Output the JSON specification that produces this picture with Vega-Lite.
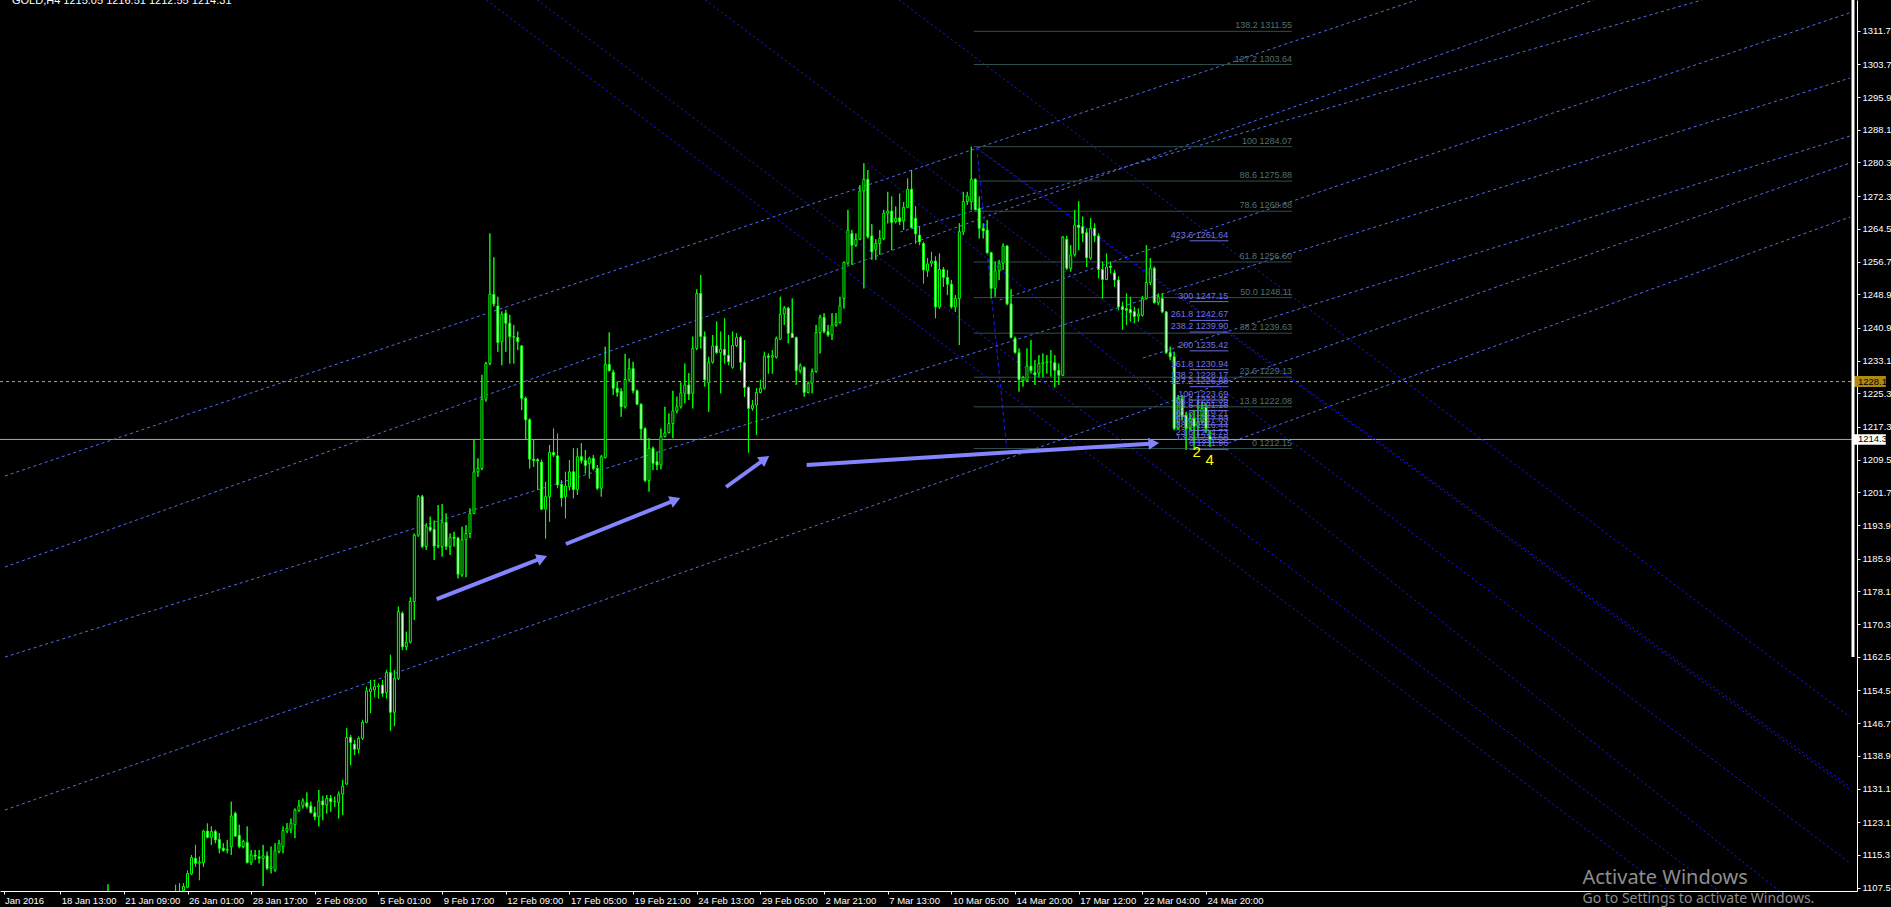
{
  "$schema": "https://vega.github.io/schema/vega-lite/v6.json",
  "width": 1857,
  "height": 891,
  "autosize": "none",
  "padding": {"left": 0, "top": 0, "right": 34, "bottom": 16},
  "background": "#000000",
  "config": {
    "view": {"stroke": null},
    "axis": {"grid": false, "labelFont": "Liberation Sans", "labelFontSize": 9.5, "labelColor": "#FFFFFF", "tickColor": "#FFFFFF", "domainColor": "#FFFFFF"}
  },
  "datasets": {
    "candles": [
      {"b":25,"o":1103,"h":1108.3,"l":1100,"c":1104},
      {"b":42,"o":1104.5,"h":1108.2,"l":1102,"c":1105.5},
      {"b":43,"o":1105.5,"h":1108.6,"l":1103,"c":1105},
      {"b":44,"o":1106.8,"h":1108.6,"l":1106.4,"c":1107.8},
      {"b":45,"o":1107.6,"h":1111.6,"l":1107.4,"c":1110.9},
      {"b":46,"o":1110.8,"h":1115.3,"l":1110.5,"c":1114.7},
      {"b":47,"o":1114.5,"h":1117.7,"l":1112.5,"c":1113.3},
      {"b":48,"o":1113.4,"h":1114.9,"l":1109.3,"c":1113.6},
      {"b":49,"o":1113.5,"h":1121.3,"l":1112.5,"c":1121.0},
      {"b":50,"o":1121.0,"h":1122.8,"l":1119.3,"c":1119.5},
      {"b":51,"o":1119.5,"h":1122.1,"l":1117.7,"c":1120.9},
      {"b":52,"o":1120.9,"h":1121.3,"l":1118.1,"c":1118.9},
      {"b":53,"o":1119.0,"h":1120.5,"l":1115.7,"c":1116.9},
      {"b":54,"o":1116.9,"h":1118.1,"l":1116.1,"c":1116.4},
      {"b":55,"o":1116.4,"h":1118.9,"l":1115.7,"c":1116.6},
      {"b":56,"o":1117.3,"h":1128.0,"l":1115.3,"c":1124.6},
      {"b":57,"o":1125.2,"h":1125.6,"l":1119.7,"c":1119.8},
      {"b":58,"o":1120.0,"h":1122.5,"l":1116.9,"c":1117.3},
      {"b":59,"o":1117.3,"h":1118.9,"l":1116.9,"c":1118.5},
      {"b":60,"o":1118.3,"h":1122.1,"l":1113.3,"c":1113.5},
      {"b":61,"o":1113.5,"h":1116.5,"l":1112.9,"c":1115.3},
      {"b":62,"o":1115.3,"h":1116.5,"l":1114.1,"c":1115.0},
      {"b":63,"o":1114.9,"h":1116.5,"l":1113.3,"c":1114.5},
      {"b":64,"o":1114.5,"h":1117.7,"l":1107.9,"c":1115.1},
      {"b":65,"o":1115.1,"h":1116.1,"l":1111.7,"c":1112.1},
      {"b":66,"o":1112.1,"h":1117.3,"l":1110.9,"c":1112.5},
      {"b":67,"o":1111.7,"h":1118.1,"l":1111.3,"c":1116.3},
      {"b":68,"o":1116.1,"h":1118.9,"l":1115.7,"c":1118.1},
      {"b":69,"o":1117.3,"h":1122.1,"l":1115.7,"c":1121.1},
      {"b":70,"o":1121.0,"h":1122.9,"l":1120.5,"c":1121.7},
      {"b":71,"o":1121.4,"h":1124.0,"l":1120.5,"c":1122.9},
      {"b":72,"o":1122.5,"h":1126.4,"l":1119.3,"c":1126.0},
      {"b":73,"o":1125.9,"h":1128.4,"l":1125.6,"c":1127.0},
      {"b":74,"o":1127.0,"h":1128.8,"l":1126.4,"c":1128.2},
      {"b":75,"o":1127.8,"h":1130.2,"l":1126.4,"c":1126.8},
      {"b":76,"o":1127.0,"h":1128.0,"l":1125.2,"c":1125.4},
      {"b":77,"o":1125.4,"h":1126.8,"l":1123.6,"c":1124.4},
      {"b":78,"o":1124.4,"h":1130.8,"l":1122.1,"c":1128.2},
      {"b":79,"o":1128.2,"h":1129.4,"l":1123.6,"c":1127.2},
      {"b":80,"o":1127.2,"h":1129.6,"l":1125.2,"c":1128.8},
      {"b":81,"o":1128.8,"h":1129.6,"l":1125.6,"c":1128.0},
      {"b":82,"o":1128.0,"h":1129.2,"l":1126.8,"c":1128.1},
      {"b":83,"o":1127.8,"h":1130.4,"l":1124.0,"c":1129.8},
      {"b":84,"o":1129.8,"h":1133.2,"l":1124.8,"c":1131.7},
      {"b":85,"o":1132.2,"h":1145.5,"l":1132.0,"c":1143.3},
      {"b":86,"o":1143.3,"h":1143.9,"l":1136.7,"c":1142.1},
      {"b":87,"o":1141.7,"h":1142.7,"l":1139.1,"c":1140.5},
      {"b":88,"o":1140.5,"h":1143.5,"l":1139.5,"c":1143.1},
      {"b":89,"o":1143.1,"h":1147.5,"l":1142.7,"c":1146.9},
      {"b":90,"o":1146.9,"h":1155.4,"l":1146.7,"c":1154.4},
      {"b":91,"o":1154.2,"h":1157.0,"l":1149.1,"c":1154.9},
      {"b":92,"o":1154.6,"h":1157.0,"l":1153.0,"c":1155.4},
      {"b":93,"o":1155.4,"h":1156.2,"l":1152.6,"c":1155.6},
      {"b":94,"o":1155.8,"h":1157.0,"l":1153.0,"c":1153.8},
      {"b":95,"o":1154.0,"h":1159.4,"l":1152.6,"c":1158.8},
      {"b":96,"o":1158.8,"h":1163.0,"l":1144.9,"c":1149.3},
      {"b":97,"o":1149.3,"h":1159.4,"l":1146.0,"c":1157.4},
      {"b":98,"o":1157.4,"h":1174.5,"l":1157.0,"c":1173.3},
      {"b":99,"o":1172.9,"h":1173.3,"l":1164.1,"c":1164.9},
      {"b":100,"o":1164.9,"h":1168.5,"l":1164.1,"c":1166.0},
      {"b":101,"o":1166.0,"h":1176.7,"l":1165.7,"c":1175.7},
      {"b":102,"o":1175.7,"h":1191.9,"l":1171.3,"c":1191.5},
      {"b":103,"o":1191.5,"h":1201.1,"l":1191.1,"c":1200.7},
      {"b":104,"o":1200.7,"h":1201.1,"l":1188.4,"c":1188.8},
      {"b":105,"o":1188.8,"h":1194.3,"l":1188.0,"c":1193.5},
      {"b":106,"o":1193.4,"h":1195.9,"l":1192.3,"c":1192.7},
      {"b":107,"o":1192.9,"h":1195.0,"l":1185.6,"c":1188.9},
      {"b":108,"o":1188.9,"h":1198.7,"l":1188.4,"c":1189.1},
      {"b":109,"o":1188.8,"h":1198.9,"l":1186.4,"c":1194.6},
      {"b":110,"o":1194.6,"h":1196.7,"l":1188.0,"c":1188.8},
      {"b":111,"o":1188.8,"h":1191.9,"l":1186.8,"c":1191.0},
      {"b":112,"o":1191.0,"h":1192.3,"l":1188.8,"c":1190.7},
      {"b":113,"o":1190.8,"h":1191.1,"l":1181.2,"c":1182.2},
      {"b":114,"o":1182.0,"h":1193.5,"l":1181.6,"c":1190.4},
      {"b":115,"o":1190.4,"h":1193.9,"l":1181.5,"c":1191.9},
      {"b":116,"o":1191.9,"h":1197.9,"l":1190.8,"c":1196.7},
      {"b":117,"o":1196.7,"h":1214.2,"l":1196.5,"c":1206.6},
      {"b":118,"o":1206.6,"h":1209.8,"l":1205.4,"c":1207.4},
      {"b":119,"o":1207.4,"h":1229.7,"l":1207.0,"c":1223.9},
      {"b":120,"o":1223.9,"h":1232.8,"l":1223.3,"c":1232.4},
      {"b":121,"o":1232.4,"h":1263.4,"l":1232.0,"c":1248.9},
      {"b":122,"o":1248.9,"h":1257.7,"l":1246.0,"c":1246.6},
      {"b":123,"o":1246.1,"h":1248.3,"l":1235.2,"c":1237.4},
      {"b":124,"o":1237.6,"h":1244.8,"l":1232.0,"c":1244.1},
      {"b":125,"o":1244.4,"h":1245.2,"l":1235.2,"c":1242.0},
      {"b":126,"o":1242.0,"h":1244.0,"l":1232.4,"c":1238.8},
      {"b":127,"o":1238.8,"h":1241.6,"l":1232.4,"c":1238.7},
      {"b":128,"o":1238.6,"h":1240.0,"l":1235.6,"c":1237.6},
      {"b":129,"o":1236.6,"h":1236.8,"l":1221.3,"c":1224.1},
      {"b":130,"o":1224.1,"h":1224.5,"l":1214.2,"c":1219.0},
      {"b":131,"o":1219.0,"h":1219.3,"l":1207.4,"c":1209.6},
      {"b":132,"o":1209.6,"h":1214.2,"l":1207.8,"c":1209.3},
      {"b":133,"o":1209.5,"h":1209.8,"l":1202.3,"c":1209.2},
      {"b":134,"o":1208.9,"h":1209.5,"l":1197.5,"c":1197.7},
      {"b":135,"o":1197.7,"h":1204.2,"l":1190.7,"c":1200.7},
      {"b":136,"o":1200.7,"h":1213.0,"l":1194.7,"c":1211.2},
      {"b":137,"o":1211.2,"h":1216.9,"l":1210.2,"c":1210.6},
      {"b":138,"o":1210.4,"h":1215.7,"l":1202.7,"c":1203.5},
      {"b":139,"o":1203.6,"h":1204.6,"l":1198.3,"c":1200.4},
      {"b":140,"o":1200.7,"h":1206.6,"l":1195.5,"c":1203.2},
      {"b":141,"o":1203.1,"h":1209.4,"l":1202.2,"c":1206.6},
      {"b":142,"o":1206.6,"h":1212.2,"l":1200.3,"c":1202.4},
      {"b":143,"o":1202.4,"h":1212.2,"l":1201.1,"c":1210.2},
      {"b":144,"o":1210.2,"h":1213.4,"l":1208.6,"c":1209.3},
      {"b":145,"o":1209.3,"h":1211.8,"l":1206.2,"c":1208.1},
      {"b":146,"o":1208.6,"h":1210.2,"l":1205.0,"c":1209.8},
      {"b":147,"o":1209.8,"h":1210.6,"l":1207.0,"c":1207.4},
      {"b":148,"o":1207.4,"h":1208.2,"l":1202.3,"c":1202.7},
      {"b":149,"o":1202.7,"h":1210.6,"l":1200.7,"c":1210.2},
      {"b":150,"o":1210.0,"h":1236.4,"l":1209.8,"c":1232.2},
      {"b":151,"o":1232.2,"h":1239.8,"l":1230.5,"c":1230.7},
      {"b":152,"o":1230.3,"h":1230.9,"l":1224.9,"c":1226.5},
      {"b":153,"o":1226.5,"h":1228.1,"l":1224.5,"c":1225.5},
      {"b":154,"o":1225.8,"h":1226.5,"l":1219.7,"c":1222.1},
      {"b":155,"o":1222.1,"h":1234.7,"l":1221.7,"c":1228.6},
      {"b":156,"o":1228.5,"h":1233.6,"l":1228.1,"c":1231.2},
      {"b":157,"o":1231.2,"h":1232.8,"l":1225.3,"c":1225.9},
      {"b":158,"o":1225.9,"h":1226.2,"l":1222.5,"c":1222.7},
      {"b":159,"o":1222.7,"h":1222.9,"l":1214.3,"c":1216.8},
      {"b":160,"o":1216.9,"h":1217.2,"l":1204.2,"c":1204.5},
      {"b":161,"o":1204.5,"h":1214.6,"l":1201.9,"c":1212.2},
      {"b":162,"o":1212.2,"h":1212.6,"l":1207.0,"c":1208.6},
      {"b":163,"o":1209.0,"h":1211.4,"l":1207.0,"c":1208.2},
      {"b":164,"o":1208.2,"h":1216.9,"l":1207.2,"c":1215.0},
      {"b":165,"o":1215.0,"h":1222.1,"l":1214.8,"c":1215.9},
      {"b":166,"o":1215.9,"h":1220.5,"l":1215.7,"c":1218.1},
      {"b":167,"o":1218.1,"h":1225.9,"l":1214.6,"c":1221.1},
      {"b":168,"o":1221.1,"h":1224.5,"l":1220.5,"c":1222.1},
      {"b":169,"o":1222.1,"h":1227.9,"l":1221.7,"c":1225.4},
      {"b":170,"o":1225.3,"h":1232.4,"l":1222.9,"c":1227.3},
      {"b":171,"o":1227.3,"h":1230.1,"l":1223.7,"c":1225.1},
      {"b":172,"o":1225.3,"h":1238.8,"l":1221.7,"c":1236.0},
      {"b":173,"o":1236.0,"h":1250.1,"l":1235.6,"c":1249.1},
      {"b":174,"o":1249.1,"h":1253.5,"l":1236.0,"c":1238.8},
      {"b":175,"o":1238.8,"h":1240.0,"l":1226.9,"c":1228.5},
      {"b":176,"o":1227.8,"h":1234.0,"l":1220.9,"c":1232.7},
      {"b":177,"o":1232.7,"h":1239.2,"l":1232.4,"c":1236.6},
      {"b":178,"o":1236.6,"h":1242.4,"l":1234.7,"c":1235.0},
      {"b":179,"o":1235.0,"h":1240.0,"l":1225.3,"c":1235.8},
      {"b":180,"o":1235.8,"h":1243.2,"l":1232.4,"c":1234.4},
      {"b":181,"o":1234.4,"h":1239.2,"l":1232.0,"c":1232.8},
      {"b":182,"o":1231.5,"h":1240.0,"l":1231.2,"c":1236.7},
      {"b":183,"o":1236.7,"h":1239.6,"l":1236.4,"c":1238.6},
      {"b":184,"o":1238.6,"h":1238.9,"l":1230.8,"c":1232.7},
      {"b":185,"o":1232.7,"h":1238.0,"l":1224.5,"c":1226.7},
      {"b":186,"o":1226.7,"h":1226.9,"l":1211.2,"c":1221.7},
      {"b":187,"o":1221.7,"h":1223.7,"l":1221.2,"c":1222.5},
      {"b":188,"o":1222.5,"h":1226.5,"l":1215.4,"c":1225.5},
      {"b":189,"o":1225.5,"h":1228.5,"l":1225.3,"c":1226.5},
      {"b":190,"o":1226.5,"h":1235.2,"l":1226.2,"c":1234.2},
      {"b":191,"o":1234.2,"h":1234.8,"l":1230.0,"c":1233.9},
      {"b":192,"o":1233.9,"h":1235.6,"l":1230.0,"c":1234.3},
      {"b":193,"o":1233.9,"h":1238.8,"l":1233.6,"c":1238.4},
      {"b":194,"o":1238.2,"h":1248.3,"l":1238.0,"c":1244.1},
      {"b":195,"o":1244.2,"h":1246.1,"l":1241.6,"c":1245.6},
      {"b":196,"o":1245.6,"h":1245.9,"l":1237.2,"c":1239.6},
      {"b":197,"o":1239.6,"h":1247.9,"l":1238.6,"c":1238.6},
      {"b":198,"o":1238.6,"h":1238.8,"l":1227.3,"c":1230.7},
      {"b":199,"o":1230.7,"h":1232.4,"l":1230.1,"c":1231.9},
      {"b":200,"o":1231.5,"h":1231.7,"l":1224.5,"c":1225.5},
      {"b":201,"o":1225.5,"h":1228.1,"l":1225.3,"c":1227.7},
      {"b":202,"o":1227.7,"h":1231.2,"l":1225.3,"c":1230.5},
      {"b":203,"o":1230.5,"h":1241.6,"l":1230.2,"c":1239.8},
      {"b":204,"o":1239.8,"h":1244.0,"l":1234.8,"c":1243.4},
      {"b":205,"o":1243.4,"h":1244.4,"l":1239.6,"c":1240.0},
      {"b":206,"o":1240.0,"h":1241.6,"l":1238.8,"c":1239.2},
      {"b":207,"o":1239.2,"h":1244.4,"l":1238.0,"c":1241.6},
      {"b":208,"o":1241.6,"h":1244.4,"l":1241.2,"c":1242.2},
      {"b":209,"o":1242.2,"h":1248.3,"l":1241.9,"c":1246.2},
      {"b":210,"o":1247.9,"h":1256.7,"l":1245.5,"c":1256.5},
      {"b":211,"o":1256.3,"h":1269.0,"l":1255.9,"c":1264.2},
      {"b":212,"o":1263.4,"h":1264.2,"l":1255.9,"c":1260.6},
      {"b":213,"o":1260.6,"h":1263.4,"l":1260.2,"c":1262.0},
      {"b":214,"o":1262.0,"h":1274.9,"l":1261.8,"c":1273.5},
      {"b":215,"o":1273.5,"h":1280.1,"l":1250.3,"c":1276.3},
      {"b":216,"o":1276.3,"h":1278.5,"l":1262.2,"c":1262.6},
      {"b":217,"o":1262.8,"h":1265.6,"l":1257.1,"c":1259.0},
      {"b":218,"o":1259.6,"h":1262.0,"l":1257.1,"c":1261.0},
      {"b":219,"o":1261.0,"h":1264.2,"l":1258.3,"c":1262.2},
      {"b":220,"o":1262.2,"h":1269.0,"l":1261.8,"c":1268.2},
      {"b":221,"o":1268.2,"h":1273.3,"l":1265.8,"c":1268.7},
      {"b":222,"o":1268.7,"h":1272.2,"l":1259.4,"c":1266.0},
      {"b":223,"o":1266.2,"h":1269.8,"l":1265.8,"c":1267.0},
      {"b":224,"o":1267.1,"h":1272.9,"l":1265.4,"c":1266.2},
      {"b":225,"o":1266.4,"h":1270.9,"l":1264.2,"c":1269.6},
      {"b":226,"o":1269.6,"h":1276.5,"l":1269.4,"c":1273.9},
      {"b":227,"o":1273.9,"h":1278.5,"l":1264.6,"c":1264.8},
      {"b":228,"o":1267.0,"h":1269.9,"l":1261.0,"c":1263.3},
      {"b":229,"o":1263.0,"h":1265.0,"l":1260.6,"c":1261.4},
      {"b":230,"o":1261.0,"h":1261.4,"l":1251.5,"c":1254.7},
      {"b":231,"o":1254.5,"h":1257.5,"l":1253.1,"c":1256.1},
      {"b":232,"o":1256.3,"h":1259.0,"l":1255.5,"c":1256.8},
      {"b":233,"o":1256.8,"h":1257.9,"l":1243.2,"c":1245.9},
      {"b":234,"o":1245.9,"h":1258.6,"l":1245.5,"c":1254.8},
      {"b":235,"o":1254.8,"h":1255.4,"l":1250.7,"c":1252.9},
      {"b":236,"o":1252.9,"h":1254.7,"l":1248.7,"c":1251.3},
      {"b":237,"o":1251.3,"h":1252.3,"l":1245.5,"c":1245.9},
      {"b":238,"o":1245.9,"h":1248.7,"l":1244.7,"c":1247.9},
      {"b":239,"o":1247.9,"h":1265.8,"l":1236.8,"c":1263.8},
      {"b":240,"o":1263.8,"h":1273.3,"l":1263.0,"c":1271.0},
      {"b":241,"o":1271.0,"h":1273.3,"l":1270.2,"c":1272.3},
      {"b":242,"o":1271.0,"h":1284.07,"l":1269.0,"c":1276.3},
      {"b":243,"o":1276.3,"h":1276.5,"l":1268.9,"c":1269.1},
      {"b":244,"o":1269.4,"h":1272.2,"l":1262.2,"c":1264.6},
      {"b":245,"o":1264.6,"h":1265.8,"l":1262.2,"c":1264.0},
      {"b":246,"o":1264.2,"h":1266.6,"l":1258.6,"c":1258.8},
      {"b":247,"o":1258.8,"h":1259.0,"l":1247.9,"c":1250.3},
      {"b":248,"o":1250.3,"h":1256.7,"l":1248.3,"c":1254.5},
      {"b":249,"o":1254.5,"h":1257.1,"l":1252.3,"c":1256.3},
      {"b":250,"o":1256.3,"h":1261.0,"l":1254.7,"c":1260.4},
      {"b":251,"o":1260.4,"h":1260.6,"l":1246.3,"c":1246.6},
      {"b":252,"o":1246.6,"h":1250.1,"l":1238.4,"c":1238.6},
      {"b":253,"o":1238.4,"h":1238.8,"l":1234.8,"c":1235.0},
      {"b":254,"o":1235.0,"h":1236.0,"l":1225.7,"c":1228.6},
      {"b":255,"o":1228.3,"h":1229.4,"l":1226.9,"c":1229.1},
      {"b":256,"o":1228.3,"h":1236.0,"l":1228.1,"c":1231.8},
      {"b":257,"o":1231.8,"h":1238.0,"l":1230.0,"c":1230.7},
      {"b":258,"o":1230.2,"h":1233.2,"l":1227.3,"c":1229.7},
      {"b":259,"o":1230.1,"h":1234.4,"l":1229.1,"c":1232.4},
      {"b":260,"o":1232.3,"h":1234.8,"l":1229.1,"c":1232.6},
      {"b":261,"o":1232.6,"h":1234.4,"l":1230.0,"c":1232.8},
      {"b":262,"o":1232.8,"h":1235.6,"l":1229.3,"c":1232.8},
      {"b":263,"o":1232.6,"h":1234.4,"l":1226.7,"c":1230.8},
      {"b":264,"o":1230.8,"h":1232.4,"l":1227.3,"c":1229.6},
      {"b":265,"o":1229.6,"h":1262.8,"l":1229.4,"c":1262.5},
      {"b":266,"o":1262.0,"h":1262.8,"l":1254.7,"c":1255.1},
      {"b":267,"o":1255.1,"h":1260.6,"l":1254.3,"c":1258.3},
      {"b":268,"o":1258.3,"h":1269.0,"l":1257.9,"c":1265.4},
      {"b":269,"o":1265.4,"h":1271.1,"l":1259.4,"c":1264.8},
      {"b":270,"o":1265.0,"h":1267.4,"l":1261.4,"c":1263.4},
      {"b":271,"o":1263.6,"h":1264.6,"l":1255.4,"c":1257.6},
      {"b":272,"o":1257.5,"h":1267.0,"l":1257.1,"c":1264.6},
      {"b":273,"o":1264.6,"h":1265.8,"l":1261.4,"c":1262.8},
      {"b":274,"o":1262.8,"h":1263.4,"l":1252.7,"c":1254.8},
      {"b":275,"o":1254.8,"h":1256.7,"l":1247.9,"c":1252.4},
      {"b":276,"o":1252.4,"h":1258.6,"l":1252.3,"c":1255.4},
      {"b":277,"o":1255.6,"h":1256.7,"l":1253.9,"c":1255.3},
      {"b":278,"o":1254.0,"h":1254.7,"l":1250.7,"c":1252.3},
      {"b":279,"o":1252.3,"h":1253.1,"l":1245.1,"c":1245.9},
      {"b":280,"o":1245.9,"h":1247.1,"l":1240.4,"c":1245.3},
      {"b":281,"o":1245.5,"h":1249.1,"l":1241.6,"c":1245.1},
      {"b":282,"o":1245.3,"h":1248.3,"l":1242.4,"c":1244.5},
      {"b":283,"o":1244.8,"h":1245.9,"l":1242.0,"c":1243.6},
      {"b":284,"o":1243.7,"h":1245.5,"l":1242.4,"c":1244.2},
      {"b":285,"o":1243.9,"h":1248.5,"l":1243.6,"c":1247.9},
      {"b":286,"o":1247.9,"h":1260.6,"l":1247.7,"c":1251.7},
      {"b":287,"o":1251.7,"h":1257.5,"l":1251.1,"c":1255.1},
      {"b":288,"o":1255.1,"h":1255.5,"l":1246.7,"c":1246.9},
      {"b":289,"o":1246.9,"h":1249.1,"l":1246.3,"c":1248.3},
      {"b":290,"o":1247.9,"h":1249.1,"l":1244.4,"c":1244.7},
      {"b":291,"o":1244.7,"h":1244.9,"l":1234.7,"c":1235.0},
      {"b":292,"o":1235.0,"h":1236.4,"l":1233.2,"c":1234.0},
      {"b":293,"o":1234.0,"h":1235.2,"l":1216.5,"c":1216.9},
      {"b":294,"o":1216.9,"h":1224.9,"l":1216.7,"c":1224.1},
      {"b":295,"o":1224.1,"h":1224.9,"l":1218.9,"c":1219.7},
      {"b":296,"o":1220.1,"h":1220.9,"l":1211.8,"c":1216.9},
      {"b":297,"o":1216.9,"h":1220.5,"l":1216.5,"c":1219.3},
      {"b":298,"o":1219.3,"h":1221.3,"l":1211.8,"c":1217.4},
      {"b":299,"o":1217.4,"h":1223.7,"l":1215.0,"c":1218.5},
      {"b":300,"o":1218.5,"h":1223.3,"l":1218.1,"c":1221.7},
      {"b":301,"o":1221.9,"h":1222.9,"l":1215.8,"c":1216.9},
      {"b":302,"o":1215.05,"h":1216.51,"l":1212.55,"c":1214.31}
    ],
    "uplines": [
      {"b":-0.875,"p":1205.6,"b2":353.875,"p2":1319.015},
      {"b":-0.875,"p":1183.92,"b2":398.375,"p2":1319.015},
      {"b":-0.875,"p":1162.47,"b2":462.875,"p2":1300.43},
      {"b":-0.875,"p":1126.02,"b2":462.875,"p2":1280.18},
      {"b":224.125,"p":1263.74,"b2":425.625,"p2":1319.015},
      {"b":249.125,"p":1247.53,"b2":462.875,"p2":1315.99},
      {"b":285.125,"p":1233.72,"b2":462.875,"p2":1286.61},
      {"b":306.625,"p":1213.46,"b2":462.875,"p2":1267.31}
    ],
    "downlines": [
      {"b":120.125,"p":1319.015,"b2":417.125,"p2":1106.72},
      {"b":132.875,"p":1319.015,"b2":429.875,"p2":1106.72},
      {"b":215.875,"p":1280.18,"b2":445.125,"p2":1106.72},
      {"b":175.125,"p":1319.015,"b2":462.875,"p2":1113.39},
      {"b":242.875,"p":1284.23,"b2":462.875,"p2":1131.5},
      {"b":243.375,"p":1283.6,"b2":463.375,"p2":1130.5},
      {"b":223.875,"p":1319.015,"b2":462.875,"p2":1148.18}
    ],
    "fibbase": [
      {"b":243.375,"p":1283.99,"b2":250.875,"p2":1212.51}
    ],
    "fib1": [
      {"t":"0 1212.15","p":1212.15},
      {"t":"13.8 1222.08","p":1222.08},
      {"t":"23.6 1229.13","p":1229.13},
      {"t":"38.2 1239.63","p":1239.63},
      {"t":"50.0 1248.11","p":1248.11},
      {"t":"61.8 1256.60","p":1256.60},
      {"t":"78.6 1268.68","p":1268.68},
      {"t":"88.6 1275.88","p":1275.88},
      {"t":"100 1284.07","p":1284.07},
      {"t":"127.2 1303.64","p":1303.64},
      {"t":"138.2 1311.55","p":1311.55}
    ],
    "fib2": [
      {"t":"0 1211.96","p":1211.96},
      {"t":"13.8 1213.58","p":1213.58},
      {"t":"23.6 1214.73","p":1214.73},
      {"t":"38.2 1216.44","p":1216.44},
      {"t":"50.0 1217.83","p":1217.83},
      {"t":"61.8 1219.21","p":1219.21},
      {"t":"78.6 1221.18","p":1221.18},
      {"t":"88.6 1222.35","p":1222.35},
      {"t":"100 1223.69","p":1223.69},
      {"t":"127.2 1226.88","p":1226.88},
      {"t":"138.2 1228.17","p":1228.17},
      {"t":"161.8 1230.94","p":1230.94},
      {"t":"200 1235.42","p":1235.42},
      {"t":"238.2 1239.90","p":1239.90},
      {"t":"261.8 1242.67","p":1242.67},
      {"t":"300 1247.15","p":1247.15},
      {"t":"423.6 1261.64","p":1261.64}
    ],
    "arrows": [
      {"id":1,"b":107.625,"p":1176.29,"b2":134.125,"p2":1186.06},
      {"id":2,"b":140.125,"p":1189.4,"b2":167.625,"p2":1199.88},
      {"id":3,"b":180.375,"p":1202.98,"b2":190.125,"p2":1209.65},
      {"id":4,"b":200.625,"p":1208.22,"b2":287.875,"p2":1213.37}
    ],
    "waves": [
      {"t":"2","b":297.625,"p":1210.13},
      {"t":"4","b":300.875,"p":1208.22}
    ],
    "one": [{}]
  },
  "layer": [
    {
      "data": {"name": "candles"},
      "mark": {"type": "rule", "color": "#00FF00", "strokeWidth": 1, "clip": true},
      "encoding": {
        "x": {"field": "b", "type": "quantitative",
          "scale": {"domain": [-0.875, 463.375], "nice": false, "zero": false},
          "axis": {
            "title": null,
            "orient": "bottom",
            "values": [-1.25, 13, 29, 45, 61, 77, 93, 109, 125, 141, 157, 173, 189, 205, 221, 237, 253, 269, 285, 301],
            "tickCount": 200,
            "labelExpr": "{'-1.25':'Jan 2016','13':'18 Jan 13:00','29':'21 Jan 09:00','45':'26 Jan 01:00','61':'28 Jan 17:00','77':'2 Feb 09:00','93':'5 Feb 01:00','109':'9 Feb 17:00','125':'12 Feb 09:00','141':'17 Feb 05:00','157':'19 Feb 21:00','173':'24 Feb 13:00','189':'29 Feb 05:00','205':'2 Mar 21:00','221':'7 Mar 13:00','237':'10 Mar 05:00','253':'14 Mar 20:00','269':'17 Mar 12:00','285':'22 Mar 04:00','301':'24 Mar 20:00'}[datum.value]",
            "tickSize": 3, "labelPadding": 1, "labelAlign": "left", "labelBaseline": "top", "labelOffset": 1,
            "labelOverlap": false, "labelFlush": false, "labelBound": false, "grid": false
          }
        },
        "y": {"field": "l", "type": "quantitative",
          "scale": {"domain": [1106.72, 1319.015], "nice": false, "zero": false},
          "axis": {
            "title": null,
            "orient": "right",
            "values": [1311.7, 1303.7, 1295.9, 1288.1, 1280.3, 1272.3, 1264.5, 1256.7, 1248.9, 1240.9, 1233.1, 1225.3, 1217.3, 1209.5, 1201.7, 1193.9, 1185.9, 1178.1, 1170.3, 1162.5, 1154.5, 1146.7, 1138.9, 1131.1, 1123.1, 1115.3, 1107.5],
            "tickCount": 200,
            "format": ".1f", "tickSize": 3, "labelPadding": 2, "labelAlign": "left", "labelBaseline": "middle",
            "labelOverlap": false, "labelFlush": false, "labelBound": false, "grid": false
          }
        },
        "y2": {"field": "h"}
      }
    },
    {
      "data": {"name": "one"},
      "mark": {"type": "rule", "color": "#C9A227", "strokeWidth": 1, "strokeDash": [3, 3], "clip": true},
      "encoding": {"y": {"datum": 1228.1, "type": "quantitative"}}
    },
    {
      "data": {"name": "one"},
      "mark": {"type": "rule", "color": "#A8A8A8", "strokeWidth": 1, "clip": true},
      "encoding": {"y": {"datum": 1214.31, "type": "quantitative"}}
    },
    {
      "data": {"name": "uplines"},
      "mark": {"type": "rule", "color": "#4F6FF0", "strokeWidth": 1, "strokeDash": [3, 3], "clip": true},
      "encoding": {
        "x": {"field": "b", "type": "quantitative"},
        "y": {"field": "p", "type": "quantitative"},
        "x2": {"field": "b2"}, "y2": {"field": "p2"}
      }
    },
    {
      "data": {"name": "downlines"},
      "mark": {"type": "rule", "color": "#1A1AFF", "strokeWidth": 1, "strokeDash": [2, 3], "clip": true},
      "encoding": {
        "x": {"field": "b", "type": "quantitative"},
        "y": {"field": "p", "type": "quantitative"},
        "x2": {"field": "b2"}, "y2": {"field": "p2"}
      }
    },
    {
      "data": {"name": "fibbase"},
      "mark": {"type": "rule", "color": "#1A1AFF", "strokeWidth": 1, "strokeDash": [4, 3], "clip": true},
      "encoding": {
        "x": {"field": "b", "type": "quantitative"},
        "y": {"field": "p", "type": "quantitative"},
        "x2": {"field": "b2"}, "y2": {"field": "p2"}
      }
    },
    {
      "data": {"name": "fib1"},
      "mark": {"type": "rule", "color": "#2F4F4F", "strokeWidth": 1, "clip": true},
      "encoding": {
        "x": {"datum": 242.625, "type": "quantitative"},
        "x2": {"datum": 322.625},
        "y": {"field": "p", "type": "quantitative"}
      }
    },
    {
      "data": {"name": "fib2"},
      "mark": {"type": "rule", "color": "#6A6AE0", "strokeWidth": 1, "clip": true},
      "encoding": {
        "x": {"datum": 296.875, "type": "quantitative"},
        "x2": {"datum": 306.625},
        "y": {"field": "p", "type": "quantitative"}
      }
    },
    {
      "data": {"name": "candles"},
      "mark": {"type": "rule", "color": "#00FF00", "strokeWidth": 1, "clip": true},
      "encoding": {
        "x": {"field": "b", "type": "quantitative"},
        "y": {"field": "l", "type": "quantitative"},
        "y2": {"field": "h"}
      }
    },
    {
      "data": {"name": "candles"},
      "mark": {"type": "bar", "width": 2, "stroke": "#00FF00", "strokeWidth": 1, "clip": true},
      "encoding": {
        "x": {"field": "b", "type": "quantitative"},
        "y": {"field": "o", "type": "quantitative"},
        "y2": {"field": "c"},
        "fill": {"condition": {"test": "datum.c >= datum.o", "value": "#000000"}, "value": "#FFFFFF"}
      }
    },
    {
      "data": {"name": "fib1"},
      "mark": {"type": "text", "align": "right", "baseline": "bottom", "dy": -1, "font": "Liberation Sans", "fontSize": 9, "color": "#52706E", "clip": true},
      "encoding": {
        "x": {"datum": 322.625, "type": "quantitative"},
        "y": {"field": "p", "type": "quantitative"},
        "text": {"field": "t"}
      }
    },
    {
      "data": {"name": "fib2"},
      "mark": {"type": "text", "align": "right", "baseline": "bottom", "dy": -1, "font": "Liberation Sans", "fontSize": 9, "color": "#7070E8", "clip": true},
      "encoding": {
        "x": {"datum": 306.625, "type": "quantitative"},
        "y": {"field": "p", "type": "quantitative"},
        "text": {"field": "t"}
      }
    },
    {
      "data": {"name": "arrows"},
      "mark": {"type": "rule", "color": "#8484FF", "strokeWidth": 4, "strokeCap": "butt", "clip": true},
      "encoding": {
        "x": {"field": "b", "type": "quantitative"},
        "y": {"field": "p", "type": "quantitative"},
        "x2": {"field": "b2"}, "y2": {"field": "p2"}
      }
    },
    {
      "data": {"name": "arrows"},
      "transform": [{"filter": "datum.id == 1"}],
      "mark": {"type": "point", "shape": "triangle-right", "filled": true, "color": "#8484FF", "size": 150, "opacity": 1, "angle": -21},
      "encoding": {
        "x": {"field": "b2", "type": "quantitative"},
        "y": {"field": "p2", "type": "quantitative"}
      }
    },
    {
      "data": {"name": "arrows"},
      "transform": [{"filter": "datum.id == 2"}],
      "mark": {"type": "point", "shape": "triangle-right", "filled": true, "color": "#8484FF", "size": 150, "opacity": 1, "angle": -22},
      "encoding": {
        "x": {"field": "b2", "type": "quantitative"},
        "y": {"field": "p2", "type": "quantitative"}
      }
    },
    {
      "data": {"name": "arrows"},
      "transform": [{"filter": "datum.id == 3"}],
      "mark": {"type": "point", "shape": "triangle-right", "filled": true, "color": "#8484FF", "size": 150, "opacity": 1, "angle": -36},
      "encoding": {
        "x": {"field": "b2", "type": "quantitative"},
        "y": {"field": "p2", "type": "quantitative"}
      }
    },
    {
      "data": {"name": "arrows"},
      "transform": [{"filter": "datum.id == 4"}],
      "mark": {"type": "point", "shape": "triangle-right", "filled": true, "color": "#8484FF", "size": 150, "opacity": 1, "angle": -4},
      "encoding": {
        "x": {"field": "b2", "type": "quantitative"},
        "y": {"field": "p2", "type": "quantitative"}
      }
    },
    {
      "data": {"name": "waves"},
      "mark": {"type": "text", "align": "left", "baseline": "alphabetic", "font": "Liberation Sans", "fontSize": 15, "color": "#FFFF00"},
      "encoding": {
        "x": {"field": "b", "type": "quantitative"},
        "y": {"field": "p", "type": "quantitative"},
        "text": {"field": "t"}
      }
    },
    {
      "data": {"name": "one"},
      "mark": {"type": "rect", "color": "#B08A0E", "clip": false},
      "encoding": {
        "x": {"datum": 463.625, "type": "quantitative"},
        "x2": {"datum": 471.875},
        "y": {"datum": 1229.43, "type": "quantitative"},
        "y2": {"datum": 1226.81}
      }
    },
    {
      "data": {"name": "one"},
      "mark": {"type": "rect", "color": "#FFFFFF", "clip": false},
      "encoding": {
        "x": {"datum": 463.625, "type": "quantitative"},
        "x2": {"datum": 471.875},
        "y": {"datum": 1215.55, "type": "quantitative"},
        "y2": {"datum": 1213.05}
      }
    },
    {
      "data": {"name": "one"},
      "mark": {"type": "text", "text": "1228.1", "align": "left", "baseline": "middle", "font": "Liberation Sans", "fontSize": 9.5, "color": "#000000", "clip": false},
      "encoding": {
        "x": {"datum": 464.875, "type": "quantitative"},
        "y": {"datum": 1228.1, "type": "quantitative"}
      }
    },
    {
      "data": {"name": "one"},
      "mark": {"type": "text", "text": "1214.3", "align": "left", "baseline": "middle", "font": "Liberation Sans", "fontSize": 9.5, "color": "#000000", "clip": false},
      "encoding": {
        "x": {"datum": 464.875, "type": "quantitative"},
        "y": {"datum": 1214.31, "type": "quantitative"}
      }
    },
    {
      "data": {"name": "one"},
      "mark": {"type": "rule", "color": "#FFFFFF", "strokeWidth": 3, "clip": false},
      "encoding": {
        "x": {"datum": 463.625, "type": "quantitative"},
        "y": {"datum": 1319.015, "type": "quantitative"},
        "y2": {"datum": 1162.47}
      }
    },
    {
      "data": {"name": "one"},
      "mark": {"type": "text", "text": "GOLD,H4  1215.05 1216.51 1212.55 1214.31", "align": "left", "baseline": "alphabetic", "font": "Liberation Sans", "fontSize": 11, "color": "#FFFFFF", "clip": false},
      "encoding": {
        "x": {"datum": 0.875, "type": "quantitative"},
        "y": {"datum": 1317.95, "type": "quantitative"}
      }
    },
    {
      "data": {"name": "one"},
      "mark": {"type": "text", "text": "Activate Windows", "align": "left", "baseline": "alphabetic", "font": "Noto Sans", "fontSize": 20, "color": "#8E8E8E", "clip": false},
      "encoding": {
        "x": {"datum": 395.625, "type": "quantitative"},
        "y": {"datum": 1108.39, "type": "quantitative"}
      }
    },
    {
      "data": {"name": "one"},
      "mark": {"type": "text", "text": "Go to Settings to activate Windows.", "align": "left", "baseline": "alphabetic", "font": "Noto Sans", "fontSize": 14, "color": "#8E8E8E", "clip": false},
      "encoding": {
        "x": {"datum": 395.625, "type": "quantitative"},
        "y": {"datum": 1103.86, "type": "quantitative"}
      }
    }
  ]
}
